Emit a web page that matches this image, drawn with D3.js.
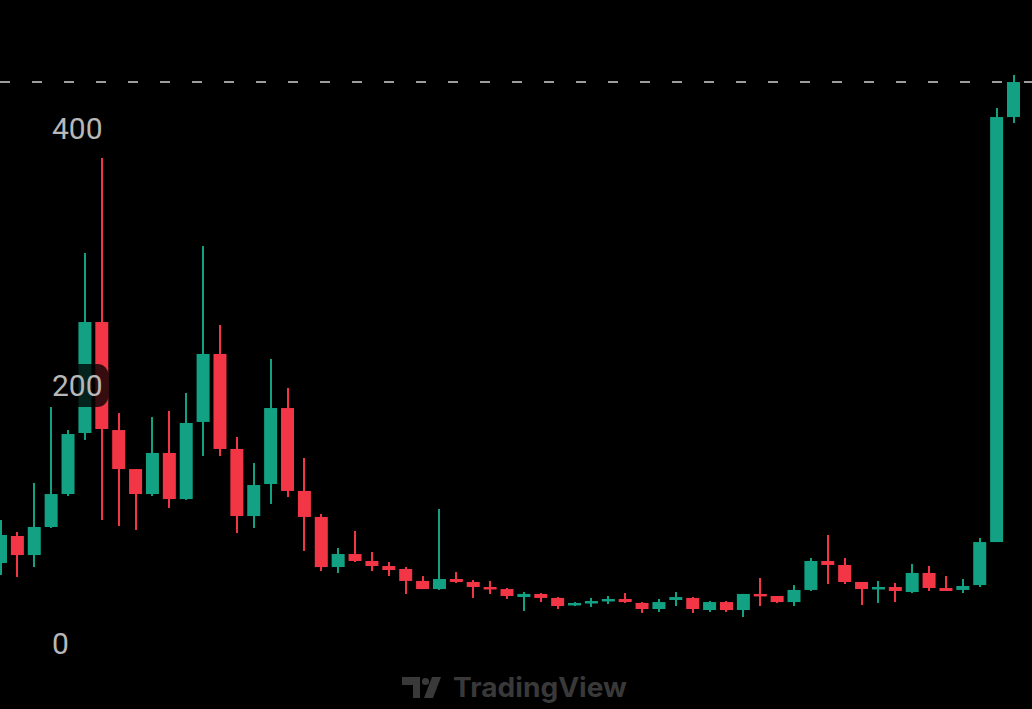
<!DOCTYPE html>
<html>
<head>
<meta charset="utf-8">
<script src="https://cdn.jsdelivr.net/npm/d3@7"></script>
<style>
  html, body { margin: 0; padding: 0; background: #000; overflow: hidden; }
</style>
</head>
<body>
<script>
// OHLC values, one per candle (oldest first)
var opens  = [62.1, 83.1, 68.3, 90.1, 115.7, 163.1, 249.3, 165.4, 135.1, 115.7,
              147.6, 111.8, 171.7, 224.5, 150.7, 98.6, 123.5, 182.5, 118.1, 97.9,
              59.0, 69.1, 63.7, 59.8, 57.5, 48.2, 41.9, 49.7, 47.4, 43.5,
              41.9, 35.7, 38.1, 35.0, 29.5, 31.1, 32.6, 34.2, 31.1, 26.4,
              33.4, 35.0, 25.6, 31.8, 25.6, 38.1, 36.5, 31.8, 41.2, 63.7,
              60.6, 47.4, 41.9, 43.5, 39.6, 54.4, 42.7, 41.2, 45.0, 78.4, 408.5]
var highs  = [95.5, 86.2, 124.3, 183.3, 165.4, 302.9, 376.7, 178.6, 135.1, 175.5,
              180.2, 194.2, 308.3, 247.0, 160.0, 139.8, 220.6, 198.1, 143.7, 100.2,
              73.8, 87.0, 70.7, 62.9, 59.0, 52.0, 104.1, 55.1, 48.9, 48.2,
              42.7, 39.6, 38.8, 35.7, 31.8, 35.0, 36.5, 38.8, 31.8, 34.2,
              39.6, 35.7, 32.6, 32.6, 38.1, 50.5, 36.5, 45.0, 66.0, 83.9,
              66.0, 47.4, 48.2, 46.6, 61.4, 59.8, 52.0, 49.7, 81.6, 415.5, 441.2]
var lows   = [52.8, 51.3, 59.0, 89.3, 114.2, 157.7, 95.5, 90.9, 87.8, 114.2,
              104.9, 111.1, 145.2, 145.2, 85.4, 89.3, 108.0, 113.4, 71.5, 55.9,
              54.4, 62.9, 55.9, 52.0, 38.1, 41.9, 41.2, 46.6, 35.0, 38.1,
              34.2, 24.9, 31.8, 26.4, 28.7, 28.0, 30.3, 31.1, 23.3, 24.1,
              28.7, 23.3, 24.1, 24.1, 20.2, 28.7, 31.1, 28.7, 40.4, 45.8,
              45.8, 29.5, 31.1, 31.8, 38.8, 40.4, 40.4, 38.8, 43.5, 78.4, 403.9]
var closes = [83.9, 68.3, 90.1, 115.7, 162.3, 249.3, 166.2, 135.1, 115.7, 147.6,
              111.8, 170.9, 224.5, 150.7, 98.6, 122.7, 182.5, 118.1, 97.9, 59.0,
              69.1, 63.7, 59.8, 56.7, 48.2, 41.9, 49.7, 47.4, 43.5, 41.9,
              36.5, 38.1, 35.0, 28.7, 31.1, 32.6, 34.2, 31.8, 26.4, 31.8,
              35.7, 26.4, 31.8, 25.6, 38.1, 36.5, 31.8, 41.2, 63.7, 60.6,
              47.4, 41.9, 43.5, 40.4, 54.4, 42.7, 40.4, 44.3, 78.4, 408.5, 435.7]
var y_ticks = [0, 200, 400]

var width = 1032, height = 709
var up_color = '#13a183', down_color = '#f23645'

function plot_it() {
	var candles = opens.map(function(o, i) {
		return {i: i, o: o, h: highs[i], l: lows[i], c: closes[i]}
	})

	var svg = d3.select('body').append('svg')
		.attr('width', width).attr('height', height)
		.style('display', 'block')
	svg.append('rect').attr('width', width).attr('height', height).attr('fill', '#000')

	var xScale = d3.scaleLinear()
		.domain([0, candles.length - 1])
		.range([0.5, 1013.5])

	var yScale = d3.scaleLinear()
		.domain([0, 400])
		.range([643, 128])

	var body_w = 13

	// last price line
	var last = closes[closes.length - 1]
	svg.append('line')
		.attr('x1', 0).attr('x2', width)
		.attr('y1', yScale(last)).attr('y2', yScale(last))
		.attr('stroke', '#9c9c9c').attr('stroke-width', 2)
		.attr('stroke-dasharray', '10,22')

	var g = svg.append('g').attr('id', 'candles')
	var c = g.selectAll('.candle').data(candles).enter().append('g').attr('class', 'candle')

	c.append('rect')
		.attr('x', function(d) { return Math.round(xScale(d.i)) - 1 })
		.attr('width', 2)
		.attr('y', function(d) { return yScale(d.h) })
		.attr('height', function(d) { return yScale(d.l) - yScale(d.h) })
		.attr('fill', function(d) { return d.c >= d.o ? up_color : down_color })

	c.append('rect')
		.attr('x', function(d) { return xScale(d.i) - body_w / 2 })
		.attr('width', body_w)
		.attr('y', function(d) { return yScale(Math.max(d.o, d.c)) })
		.attr('height', function(d) { return Math.max(2.5, Math.abs(yScale(d.o) - yScale(d.c))) })
		.attr('fill', function(d) { return d.c >= d.o ? up_color : down_color })

	// price labels sit over the candles on a dark pill
	var labels = svg.append('g').attr('id', 'yaxis')
	var lab = labels.selectAll('.lab').data(y_ticks).enter().append('g').attr('class', 'lab')
	lab.append('rect')
		.attr('x', 48)
		.attr('width', function(d) { return String(d).length * 16.8 + 10 })
		.attr('y', function(d) { return yScale(d) - 21.5 })
		.attr('height', 43).attr('rx', 11)
		.attr('fill', '#000').attr('fill-opacity', 0.78)
	lab.append('text')
		.attr('x', 52)
		.attr('y', function(d) { return yScale(d) })
		.attr('dy', '0.36em')
		.attr('font-family', 'Roboto, sans-serif')
		.attr('font-size', '30px')
		.attr('fill', '#b8b8b8')
		.text(function(d) { return d })

	// watermark
	var wm = svg.append('g').attr('id', 'watermark').attr('fill', '#393939')
	wm.append('path').attr('d', 'M402,677 H420 V698 H413 V685 H402 Z')
	wm.append('circle').attr('cx', 425.5).attr('cy', 681.5).attr('r', 3.6)
	wm.append('path').attr('d', 'M432,677 H441 L433,698 H424 Z')
	wm.append('text')
		.attr('x', 453).attr('y', 697)
		.attr('font-family', 'Inter, sans-serif')
		.attr('font-weight', 700)
		.attr('font-size', '27px')
		.attr('textLength', 174)
		.attr('lengthAdjust', 'spacingAndGlyphs')
		.text('TradingView')
}

plot_it()
</script>
</body>
</html>
